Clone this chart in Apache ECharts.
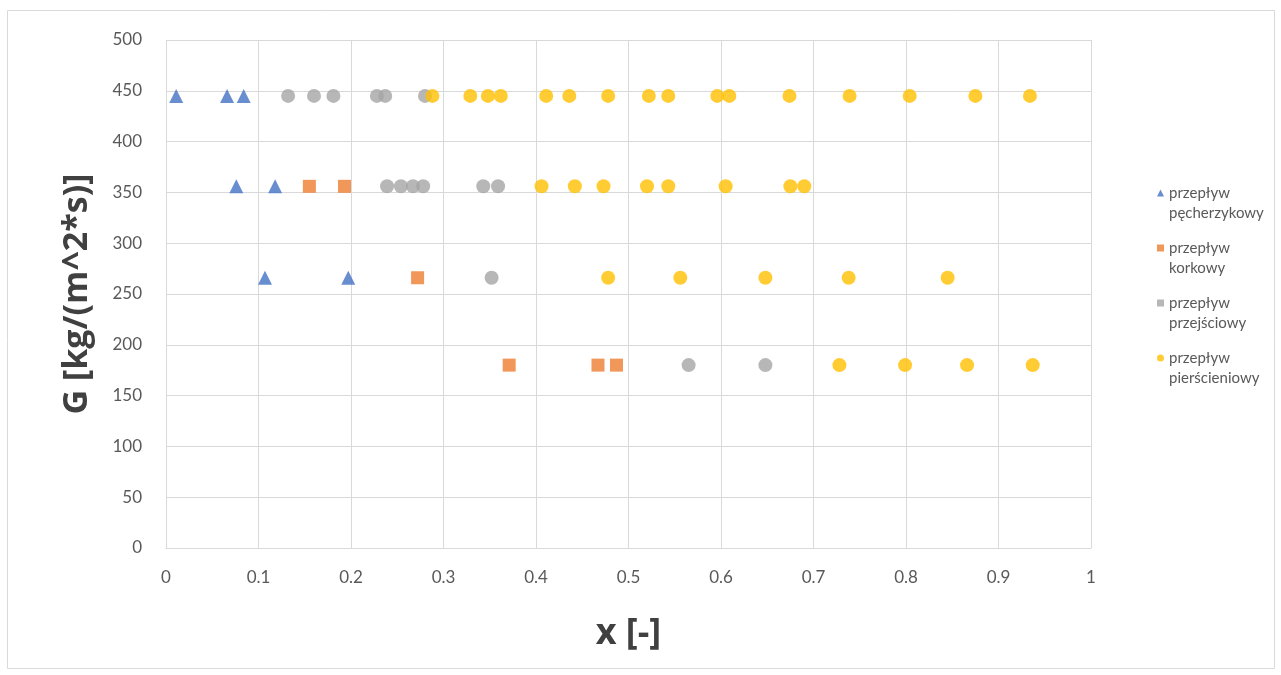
<!DOCTYPE html>
<html><head><meta charset="utf-8">
<script src="https://cdn.jsdelivr.net/npm/echarts@6/dist/echarts.min.js"></script>
<style>html,body{margin:0;padding:0;background:#fff}#c{width:1281px;height:675px}</style>
</head><body><div id="c"></div>
<script>
const seriesNames = ['przepływ\npęcherzykowy','przepływ\nkorkowy','przepływ\nprzejściowy','przepływ\npierścieniowy'];
const xTicks = ['0','0.1','0.2','0.3','0.4','0.5','0.6','0.7','0.8','0.9','1'];
// [x, G]
const bubbly = [[0.011,445],[0.066,445],[0.084,445],[0.076,356],[0.118,356],[0.107,266],[0.197,266]];
const slug = [[0.155,356],[0.193,356],[0.272,266],[0.371,180],[0.467,180],[0.487,180]];
const transitional = [[0.132,445],[0.160,445],[0.181,445],[0.228,445],[0.237,445],[0.280,445],
  [0.239,356],[0.254,356],[0.267,356],[0.278,356],[0.343,356],[0.359,356],
  [0.352,266],[0.565,180],[0.648,180]];
const annular = [[0.288,445],[0.329,445],[0.348,445],[0.362,445],[0.411,445],[0.436,445],[0.478,445],
  [0.522,445],[0.543,445],[0.596,445],[0.609,445],[0.674,445],[0.739,445],[0.804,445],[0.875,445],[0.934,445],
  [0.406,356],[0.442,356],[0.473,356],[0.520,356],[0.543,356],[0.605,356],[0.675,356],[0.690,356],
  [0.478,266],[0.556,266],[0.648,266],[0.738,266],[0.845,266],
  [0.728,180],[0.799,180],[0.866,180],[0.937,180]];

// legend icons drawn in the top part of a taller box so they sit beside the first text line
const pad = ' M0,27 L0.01,27 Z';
const icTri = 'path://M3.5,0 L7,7 L0,7 Z' + pad;
const icRect = 'path://M0,0 L7,0 L7,7 L0,7 Z' + pad;
const icCirc = 'path://M0,3.5 A3.5,3.5 0 1,1 7,3.5 A3.5,3.5 0 1,1 0,3.5 Z' + pad;

const chart = echarts.init(document.getElementById('c'));
const lbl = {color:'#595959', fontFamily:'Lato, "Open Sans", sans-serif'};
chart.setOption({
  animation:false,
  graphic:[{type:'rect',shape:{x:7.5,y:10.5,width:1267,height:658},style:{fill:'none',stroke:'#d9d9d9',lineWidth:1}}],
  grid:{left:166,right:190,top:40,bottom:127},
  legend:{orient:'vertical',left:1152,top:178,itemGap:15,itemWidth:7,itemHeight:27,
    textStyle:{color:'#595959',fontSize:15,lineHeight:20,fontFamily:'Lato, "Open Sans", sans-serif'},
    data:[{name:seriesNames[0],icon:icTri},{name:seriesNames[1],icon:icRect},{name:seriesNames[2],icon:icRect},{name:seriesNames[3],icon:icCirc}]},
  xAxis:{type:'value',min:0,max:1,interval:0.1,
    name:'x [-]',nameLocation:'middle',nameGap:68,
    nameTextStyle:{fontSize:36,fontWeight:'bold',color:'#404040',fontFamily:'"Open Sans", Lato, sans-serif'},
    axisLine:{show:true,lineStyle:{color:'#d9d9d9'}},axisTick:{show:false},
    axisLabel:Object.assign({fontSize:17,margin:21,formatter:(v)=>xTicks[Math.round(v*10)]},lbl),
    splitLine:{show:true,lineStyle:{color:'#d9d9d9'}}},
  yAxis:{type:'value',min:0,max:500,interval:50,
    name:'G [kg/(m^2*s)]',nameLocation:'middle',nameGap:72,
    nameTextStyle:{fontSize:34,fontWeight:'bold',color:'#404040',fontFamily:'"Open Sans", Lato, sans-serif'},
    axisLine:{show:false},axisTick:{show:false},
    axisLabel:Object.assign({fontSize:17,margin:24},lbl),
    splitLine:{show:true,lineStyle:{color:'#d9d9d9'}}},
  series:[
    {name:seriesNames[0],type:'scatter',symbol:'triangle',symbolSize:14,itemStyle:{color:'#4472C4'},data:bubbly},
    {name:seriesNames[1],type:'scatter',symbol:'rect',symbolSize:13,itemStyle:{color:'#ED7D31'},data:slug},
    {name:seriesNames[2],type:'scatter',symbol:'circle',symbolSize:14,itemStyle:{color:'#A5A5A5'},data:transitional},
    {name:seriesNames[3],type:'scatter',symbol:'circle',symbolSize:14,itemStyle:{color:'#FFC000'},data:annular}
  ]
});
</script></body></html>
